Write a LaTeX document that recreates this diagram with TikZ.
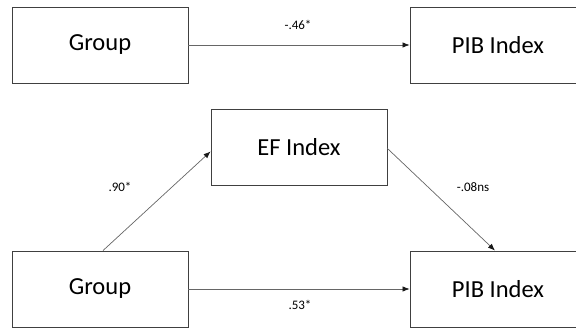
\documentclass[tikz,border=0pt]{standalone}
\usepackage{fontspec}
\setmainfont{Carlito}
\usetikzlibrary{arrows.meta}

\begin{document}
\begin{tikzpicture}[x=1pt, y=-1pt]
  \tikzset{
    varbox/.style={
      draw=black!75, line width=0.9pt, fill=white,
      minimum width=176pt, minimum height=76pt,
      font=\fontsize{24.5}{29}\selectfont
    },
    path/.style={
      draw=black!60, line width=0.7pt,
      -{Latex[length=7pt, width=5.5pt, black!90]}
    },
    coef/.style={
      font=\fontsize{13}{15}\selectfont
    }
  }

  \clip (0,0) rectangle (576,331);
  \useasboundingbox (0,0) rectangle (576,331);

  \foreach \i/\y in {1/45, 2/289} {
    \node [varbox] (grp\i) at (100,\y) {Group};
    \node [varbox] (pib\i) at (498,\y) {PIB Index};
  }
  \node [varbox] (ef) at (299,147.5) {EF Index};

  % total effect on top, mediation model below
  \draw [path] (grp1.east) -- (pib1.west);
  \draw [path] ([xshift=3pt]grp2.north) -- ([yshift=-4pt]ef.west);
  \draw [path] ([yshift=-1pt]ef.east) -- ([xshift=-3pt]pib2.north);
  \draw [path] (grp2.east) -- (pib2.west);

  \node [coef] (c1) at (298,25) {-.46*};
  \node [coef] (a1) at (120,187) {.90*};
  \node [coef] (b1) at (473,187) {-.08ns};
  \node [coef] (c2) at (300,305) {.53*};
\end{tikzpicture}
\end{document}
